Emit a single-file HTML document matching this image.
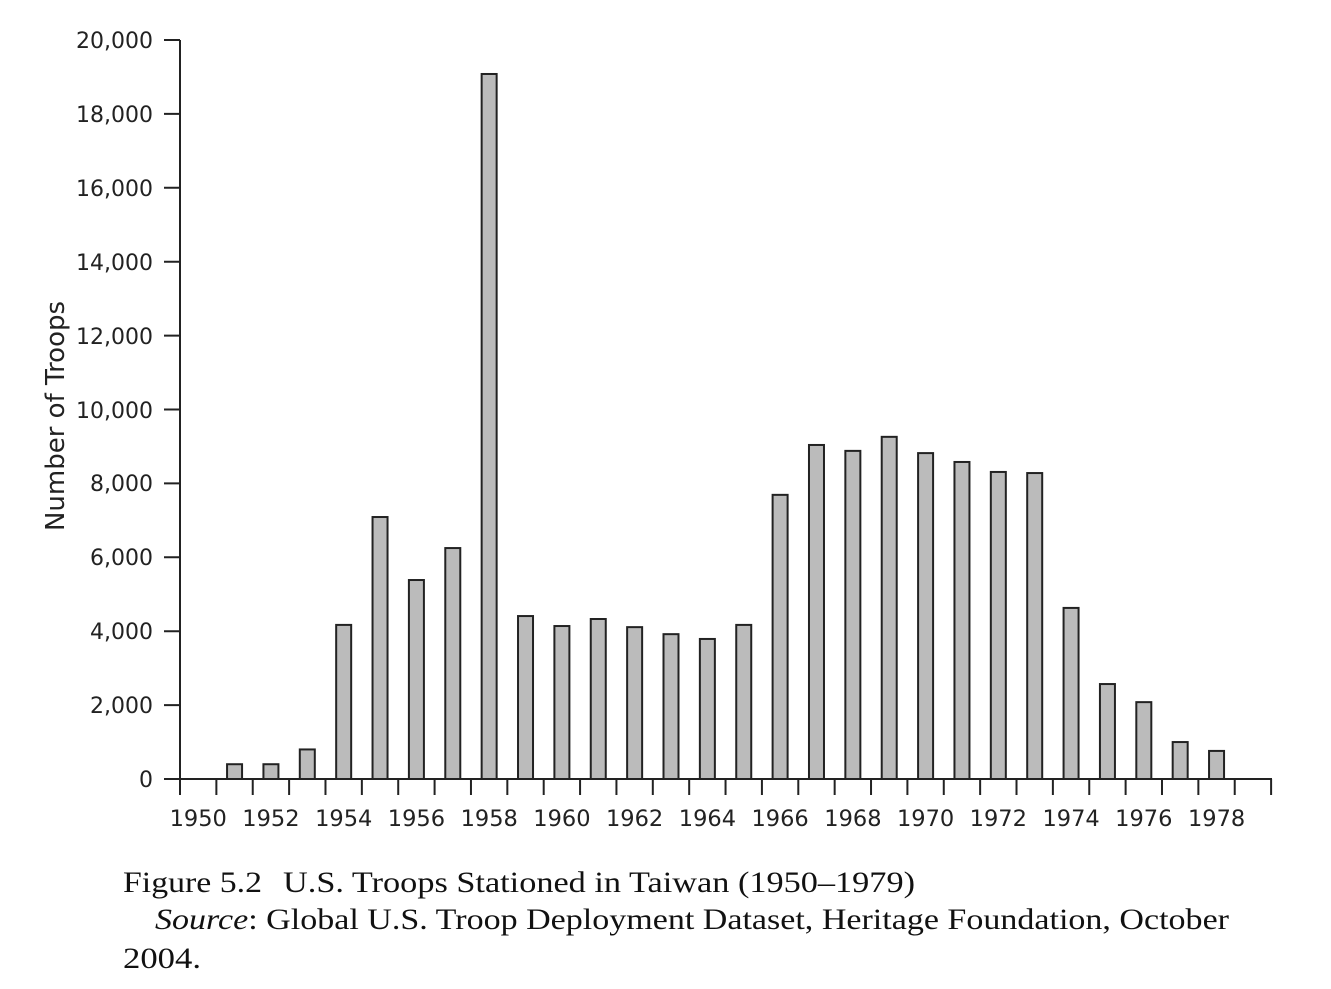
<!DOCTYPE html>
<html><head><meta charset="utf-8"><style>
html,body{margin:0;padding:0;background:#fff;}
svg{display:block;}
</style></head><body>
<svg width="1331" height="989" xmlns="http://www.w3.org/2000/svg">
<g font-family="'DejaVu Sans','Liberation Sans',sans-serif" font-size="22" fill="#222">
<line x1="180" y1="40" x2="180" y2="779" stroke="#222" stroke-width="2"/>
<path stroke="#222" stroke-width="2" fill="none" d="M164 40H180M164 113.9H180M164 187.8H180M164 261.7H180M164 335.6H180M164 409.5H180M164 483.4H180M164 557.3H180M164 631.2H180M164 705.1H180M164 779H180"/>
<g text-anchor="end">
<text x="153" y="48">20,000</text>
<text x="153" y="122">18,000</text>
<text x="153" y="196">16,000</text>
<text x="153" y="270">14,000</text>
<text x="153" y="344">12,000</text>
<text x="153" y="418">10,000</text>
<text x="153" y="491">8,000</text>
<text x="153" y="565">6,000</text>
<text x="153" y="639">4,000</text>
<text x="153" y="713">2,000</text>
<text x="153" y="787">0</text>
</g>
<text transform="translate(64,416) rotate(-90)" text-anchor="middle" font-size="26">Number of Troops</text>
</g>
<g fill="#bbb" stroke="#222" stroke-width="2">
<rect x="227.06" y="764.22" width="15" height="14.78"/>
<rect x="263.43" y="764.22" width="15" height="14.78"/>
<rect x="299.80" y="749.44" width="15" height="29.56"/>
<rect x="336.17" y="624.91" width="15" height="154.09"/>
<rect x="372.54" y="517.02" width="15" height="261.98"/>
<rect x="408.91" y="580.02" width="15" height="198.98"/>
<rect x="445.28" y="548.06" width="15" height="230.94"/>
<rect x="481.65" y="73.99" width="15" height="705.01"/>
<rect x="518.02" y="616.05" width="15" height="162.95"/>
<rect x="554.39" y="626.03" width="15" height="152.97"/>
<rect x="590.76" y="619.0" width="15" height="160.0"/>
<rect x="627.13" y="627.14" width="15" height="151.86"/>
<rect x="663.50" y="634.16" width="15" height="144.84"/>
<rect x="699.87" y="638.96" width="15" height="140.04"/>
<rect x="736.24" y="624.91" width="15" height="154.09"/>
<rect x="772.61" y="494.85" width="15" height="284.15"/>
<rect x="808.98" y="444.97" width="15" height="334.03"/>
<rect x="845.35" y="450.88" width="15" height="328.12"/>
<rect x="881.72" y="436.84" width="15" height="342.16"/>
<rect x="918.09" y="453.1" width="15" height="325.9"/>
<rect x="954.46" y="461.97" width="15" height="317.03"/>
<rect x="990.83" y="471.95" width="15" height="307.05"/>
<rect x="1027.20" y="473.05" width="15" height="305.95"/>
<rect x="1063.57" y="607.92" width="15" height="171.08"/>
<rect x="1099.94" y="684.04" width="15" height="94.96"/>
<rect x="1136.31" y="702.14" width="15" height="76.86"/>
<rect x="1172.68" y="742.05" width="15" height="36.95"/>
<rect x="1209.05" y="750.92" width="15" height="28.08"/>
</g>
<path stroke="#222" stroke-width="2" fill="none" d="M179 779H1272M180 779V795M216.37 779V795M252.74 779V795M289.11 779V795M325.48 779V795M361.85 779V795M398.22 779V795M434.59 779V795M470.96 779V795M507.33 779V795M543.7 779V795M580.07 779V795M616.44 779V795M652.81 779V795M689.18 779V795M725.55 779V795M761.92 779V795M798.29 779V795M834.66 779V795M871.03 779V795M907.4 779V795M943.77 779V795M980.14 779V795M1016.51 779V795M1052.88 779V795M1089.25 779V795M1125.62 779V795M1161.99 779V795M1198.36 779V795M1234.73 779V795M1271.1 779V795"/>
<g font-family="'DejaVu Sans','Liberation Sans',sans-serif" font-size="22.5" fill="#222" text-anchor="middle">
<text x="198.2" y="826">1950</text>
<text x="270.9" y="826">1952</text>
<text x="343.7" y="826">1954</text>
<text x="416.4" y="826">1956</text>
<text x="489.2" y="826">1958</text>
<text x="561.9" y="826">1960</text>
<text x="634.6" y="826">1962</text>
<text x="707.4" y="826">1964</text>
<text x="780.1" y="826">1966</text>
<text x="852.9" y="826">1968</text>
<text x="925.6" y="826">1970</text>
<text x="998.3" y="826">1972</text>
<text x="1071.1" y="826">1974</text>
<text x="1143.8" y="826">1976</text>
<text x="1216.6" y="826">1978</text>
</g>
<g font-family="'Liberation Serif',serif" font-size="30" fill="#111">
<text x="123" y="892" textLength="139" lengthAdjust="spacingAndGlyphs">Figure 5.2</text>
<text x="283" y="892" textLength="632" lengthAdjust="spacingAndGlyphs">U.S. Troops Stationed in Taiwan (1950–1979)</text>
<text x="155" y="929" textLength="1074" lengthAdjust="spacingAndGlyphs"><tspan font-style="italic">Source</tspan>: Global U.S. Troop Deployment Dataset, Heritage Foundation, October</text>
<text x="123" y="968" textLength="78" lengthAdjust="spacingAndGlyphs">2004.</text>
</g>
</svg>
</body></html>
